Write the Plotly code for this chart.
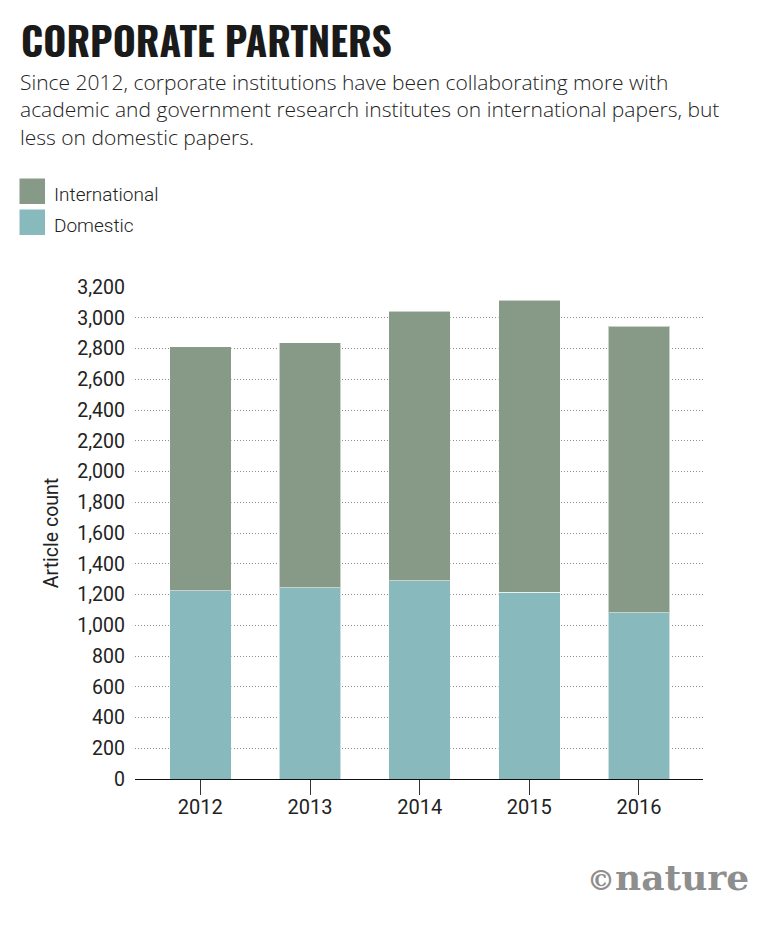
import plotly.graph_objects as go

years = ["2012", "2013", "2014", "2015", "2016"]
domestic = [1226, 1243, 1290, 1215, 1082]
total = [2813, 2836, 3043, 3113, 2946]
international = [t - d for t, d in zip(total, domestic)]
y_ticks = list(range(0, 3201, 200))
y_tick_labels = [f"{v:,}" for v in y_ticks]

title_text = "CORPORATE PARTNERS"
subtitle_lines = [
    "Since 2012, corporate institutions have been collaborating more with",
    "academic and government research institutes on international papers, but",
    "less on domestic papers.",
]
y_title = "Article count"

COL_INT = "#879a88"
COL_DOM = "#88b9bc"
TXT = "#222222"
SANS = "Roboto, 'Liberation Sans', sans-serif"
SUB = "'Open Sans', Roboto, 'Liberation Sans', sans-serif"
TITLE_FONT = "Oswald, 'Roboto Condensed', 'Liberation Sans', sans-serif"

# page has an 8px body margin; figure sized so it ends at the window edge
W, H = 751, 909
L, T = 127, 279
PW, PH = 568, 492


def PX(xr):  # window pixel x -> paper
    return (xr - 8 - L) / PW


def PY(yr):  # window pixel y -> paper
    return (T + PH - (yr - 8)) / PH


fig = go.Figure()
bar_line = dict(color="rgba(255,255,255,0.55)", width=1)
fig.add_trace(go.Bar(x=years, y=domestic, name="Domestic", marker=dict(color=COL_DOM, line=bar_line)))
fig.add_trace(go.Bar(x=years, y=international, name="International", marker=dict(color=COL_INT, line=bar_line)))

fig.update_layout(
    width=W, height=H,
    barmode="stack", bargap=0.439,
    showlegend=False,
    paper_bgcolor="white", plot_bgcolor="white",
    margin=dict(l=L, r=W - L - PW, t=T, b=H - T - PH, autoexpand=False),
    font=dict(family=SANS, color=TXT, size=19),
    xaxis=dict(type="category", range=[-0.596, 4.584], showline=True, linecolor="#111", linewidth=1,
               ticks="outside", ticklen=15, tickcolor="#333", tickwidth=1, showgrid=False,
               ticklabelstandoff=-5,
               tickfont=dict(family=SANS, size=20, color=TXT), fixedrange=True),
    yaxis=dict(range=[0, 3200], tickvals=y_ticks, ticktext=y_tick_labels, showgrid=True,
               gridcolor="#8c8c8c", griddash="1px,2px", gridwidth=1, zeroline=False, showline=False,
               ticks="", ticklabelstandoff=9, tickfont=dict(family=SANS, size=19.5, color=TXT),
               title=dict(text=y_title, font=dict(family=SANS, size=19.5, color=TXT), standoff=13)),
)

# title and subtitle
fig.add_annotation(text=f"<b>{title_text}</b>", xref="paper", yref="paper", x=PX(19), y=PY(8.3),
                   xanchor="left", yanchor="top", showarrow=False,
                   font=dict(family=TITLE_FONT, size=39.5, color="#1a1a1a", weight=700))
fig.add_annotation(text="<br>".join(subtitle_lines), xref="paper", yref="paper", x=PX(17.5), y=PY(109),
                   xanchor="left", yanchor="middle", align="left", showarrow=False,
                   font=dict(family=SUB, size=21, color="#222", weight=300))

# legend (swatches drawn at the reference size)
legend_items = [("International", COL_INT), ("Domestic", COL_DOM)]
for i, (lab, col) in enumerate(legend_items):
    top = 178.5 + i * 31
    fig.add_shape(type="rect", xref="paper", yref="paper",
                  x0=PX(19.5), x1=PX(45), y0=PY(top + 25.5), y1=PY(top),
                  fillcolor=col, line=dict(width=0))
    fig.add_annotation(text=lab, xref="paper", yref="paper", x=PX(52),
                       y=PY(top + 16), xanchor="left", yanchor="middle",
                       showarrow=False, font=dict(family=SANS, size=19, color="#222", weight=300))

# watermark
fig.add_annotation(text="<span style='font-size:28px'>©</span>nature", xref="paper", yref="paper", x=PX(751),
                   y=PY(877), xanchor="right", yanchor="middle", showarrow=False,
                   font=dict(family="'DejaVu Serif', serif", size=36, color="#8e8e8e", weight=700))

fig.write_html("out.html")
